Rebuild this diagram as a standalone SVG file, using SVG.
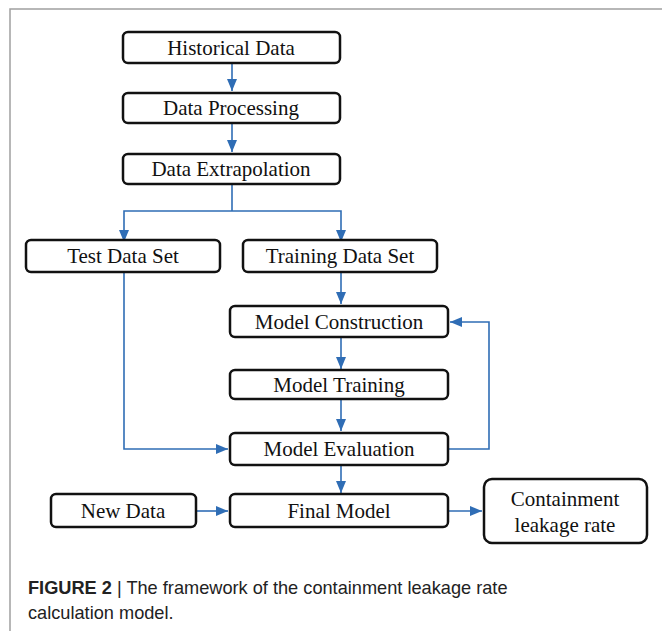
<svg xmlns="http://www.w3.org/2000/svg" width="662" height="631" viewBox="0 0 662 631">
<style>
.box{fill:#fff;stroke:#111;stroke-width:2.5}
.t{font-family:"Liberation Serif",serif;font-size:21px;fill:#111;text-anchor:middle}
.c{fill:none;stroke:#2f6db5;stroke-width:1.6}
.cap{font-family:"Liberation Sans",Arial,sans-serif;font-size:18.2px;fill:#222}
</style>
<defs>
<marker id="ah" markerUnits="userSpaceOnUse" markerWidth="12" markerHeight="12" viewBox="0 0 12 12" refX="12" refY="6" orient="auto">
<path d="M0,1 L12,6 L0,11 z" fill="#2f6db5"/>
</marker>
</defs>
<rect x="0" y="0" width="662" height="631" fill="#fff"/>
<rect x="10" y="9" width="670" height="640" fill="none" stroke="#a0a0a0" stroke-width="1.5"/>
<g id="connectors">
<line class="c" x1="232" y1="62" x2="232" y2="91" marker-end="url(#ah)"/>
<line class="c" x1="232" y1="123" x2="232" y2="152" marker-end="url(#ah)"/>
<polyline class="c" points="232,185 232,211"/>
<polyline class="c" points="232,211 124,211 124,242" marker-end="url(#ah)"/>
<polyline class="c" points="232,211 341,211 341,242" marker-end="url(#ah)"/>
<line class="c" x1="341" y1="273" x2="341" y2="304" marker-end="url(#ah)"/>
<line class="c" x1="341" y1="338" x2="341" y2="369" marker-end="url(#ah)"/>
<line class="c" x1="341" y1="400" x2="341" y2="431" marker-end="url(#ah)"/>
<polyline class="c" points="124,273 124,449 228,449" marker-end="url(#ah)"/>
<polyline class="c" points="448,449 489,449 489,322 450,322" marker-end="url(#ah)"/>
<line class="c" x1="341" y1="465" x2="341" y2="493" marker-end="url(#ah)"/>
<line class="c" x1="196" y1="511" x2="228" y2="511" marker-end="url(#ah)"/>
<line class="c" x1="448" y1="511" x2="482" y2="511" marker-end="url(#ah)"/>
</g>
<g id="historical"><rect class="box" x="123" y="32" width="217" height="31" rx="5"/><text class="t" x="231" y="55">Historical Data</text></g>
<g id="processing"><rect class="box" x="123" y="93" width="217" height="30" rx="5"/><text class="t" x="231" y="115">Data Processing</text></g>
<g id="extrapolation"><rect class="box" x="123" y="154" width="217" height="30" rx="5"/><text class="t" x="231" y="176">Data Extrapolation</text></g>
<g id="test"><rect class="box" x="26" y="240" width="194" height="32" rx="5"/><text class="t" x="123" y="263">Test Data Set</text></g>
<g id="training"><rect class="box" x="243" y="240" width="194" height="32" rx="5"/><text class="t" x="340" y="263">Training Data Set</text></g>
<g id="construction"><rect class="box" x="230" y="306" width="218" height="31" rx="5"/><text class="t" x="339" y="329">Model Construction</text></g>
<g id="modeltraining"><rect class="box" x="230" y="370" width="218" height="29" rx="5"/><text class="t" x="339" y="392">Model Training</text></g>
<g id="evaluation"><rect class="box" x="230" y="433" width="218" height="32" rx="5"/><text class="t" x="339" y="456">Model Evaluation</text></g>
<g id="newdata"><rect class="box" x="51" y="494" width="145" height="33" rx="5"/><text class="t" x="123" y="518">New Data</text></g>
<g id="final"><rect class="box" x="230" y="494" width="218" height="33" rx="5"/><text class="t" x="339" y="518">Final Model</text></g>
<g id="containment"><rect class="box" x="484" y="479" width="163" height="64" rx="8"/><text class="t" x="565" y="506">Containment</text><text class="t" x="565" y="532">leakage rate</text></g>
<g id="caption">
<text class="cap" x="28" y="594"><tspan font-weight="bold">FIGURE 2</tspan> | The framework of the containment leakage rate</text>
<text class="cap" x="28" y="619">calculation model.</text>
</g>
</svg>
